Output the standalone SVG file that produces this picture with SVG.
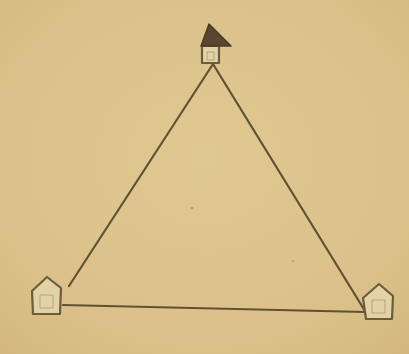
<svg xmlns="http://www.w3.org/2000/svg" width="409" height="354" viewBox="0 0 409 354">
<defs>
<radialGradient id="bg" cx="0.5" cy="0.45" r="0.75">
<stop offset="0" stop-color="#e0c891"/>
<stop offset="0.7" stop-color="#dbc189"/>
<stop offset="1" stop-color="#d2b67d"/>
</radialGradient>
<style>
.edge{fill:none;stroke:#5f5233;stroke-width:2.2;stroke-linecap:round}
.house{fill:#e3d2a6;stroke:#6b5c3c;stroke-width:2.2;stroke-linejoin:round}
.inner{fill:none;stroke:#a49270;stroke-width:1;opacity:0.7}
.roof{fill:#5a4530;stroke:#4a3a28;stroke-width:1.5;stroke-linejoin:round}
</style>
</defs>
<rect width="409" height="354" fill="url(#bg)"/>
<circle cx="192" cy="208" r="1.5" fill="#a89060" opacity="0.7"/>
<circle cx="293" cy="261" r="1.3" fill="#a89060" opacity="0.6"/>
<g id="connectors">
<line class="edge" x1="213" y1="64" x2="69" y2="286"/>
<line class="edge" x1="213" y1="64" x2="365" y2="311"/>
<line class="edge" x1="63" y1="305" x2="365" y2="312"/>
</g>
<g id="node-top">
<path class="house" d="M202 46 L219 46 L219 63 L202 63 Z"/>
<path class="inner" d="M207 52 L214 52 L214 60 L207 60 Z"/>
<path class="roof" d="M209 24 L231 46 L201 46 Z"/>
</g>
<g id="node-left">
<path class="house" d="M47 277 L61 288 L60 314 L33 314 L32 291 Z"/>
<path class="inner" d="M40 295 L53 295 L53 308 L40 308 Z"/>
</g>
<g id="node-right">
<path class="house" d="M379 284 L393 296 L392 319 L366 319 L363 298 Z"/>
<path class="inner" d="M372 300 L385 300 L385 313 L372 313 Z"/>
</g>
</svg>
